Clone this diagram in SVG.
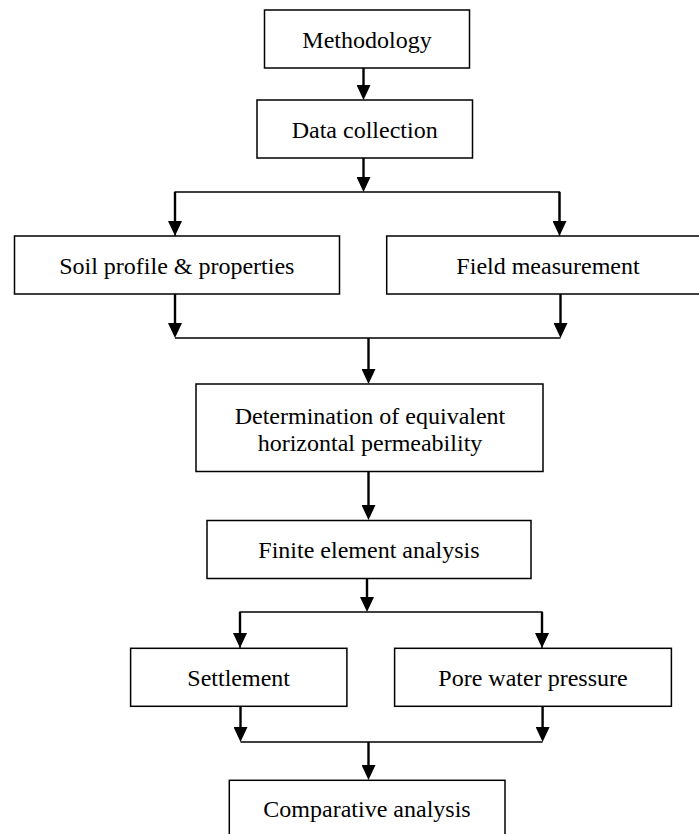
<svg xmlns="http://www.w3.org/2000/svg" width="699" height="834" viewBox="0 0 699 834">
<style>
.box{fill:#fff;stroke:#000;stroke-width:1.5}
.lbl{font-family:"Liberation Serif","Times New Roman",serif;font-size:24px;fill:#000;text-anchor:middle}
.shaft{stroke:#000;stroke-width:2.4;fill:none}
.bus{stroke:#000;stroke-width:1.3;fill:none}
</style>
<defs>
<marker id="ah" markerUnits="userSpaceOnUse" viewBox="0 0 15 14" refX="9" refY="7" markerWidth="15" markerHeight="14" orient="auto">
<path d="M0,0 L15,7 L0,14 Z" fill="#000"/>
</marker>
</defs>
<rect width="699" height="834" fill="#fff"/>
<g id="connectors">
<line class="shaft" x1="363.5" y1="68" x2="363.5" y2="94" marker-end="url(#ah)"/>
<line class="shaft" x1="363.5" y1="158" x2="363.5" y2="186" marker-end="url(#ah)"/>
<polyline class="bus" points="175,236 175,192 559.5,192 559.5,236"/>
<line class="shaft" x1="175" y1="192" x2="175" y2="230" marker-end="url(#ah)"/>
<line class="shaft" x1="559.5" y1="192" x2="559.5" y2="230" marker-end="url(#ah)"/>
<line class="shaft" x1="175" y1="294" x2="175" y2="332" marker-end="url(#ah)"/>
<line class="shaft" x1="560.5" y1="294" x2="560.5" y2="332" marker-end="url(#ah)"/>
<line class="bus" x1="175" y1="338" x2="560.5" y2="338"/>
<line class="shaft" x1="368.5" y1="338" x2="368.5" y2="378" marker-end="url(#ah)"/>
<line class="shaft" x1="368.5" y1="471.5" x2="368.5" y2="514" marker-end="url(#ah)"/>
<line class="shaft" x1="367" y1="578.5" x2="367" y2="606" marker-end="url(#ah)"/>
<polyline class="bus" points="240,648 240,612 542,612 542,648"/>
<line class="shaft" x1="240" y1="612" x2="240" y2="642" marker-end="url(#ah)"/>
<line class="shaft" x1="542" y1="612" x2="542" y2="642" marker-end="url(#ah)"/>
<line class="shaft" x1="240.5" y1="706.3" x2="240.5" y2="736" marker-end="url(#ah)"/>
<line class="shaft" x1="542.6" y1="706.3" x2="542.6" y2="736" marker-end="url(#ah)"/>
<line class="bus" x1="240.5" y1="742" x2="542.6" y2="742"/>
<line class="shaft" x1="368.5" y1="742" x2="368.5" y2="774" marker-end="url(#ah)"/>
</g>
<g id="methodology">
<rect class="box" x="264.5" y="10" width="205" height="58"/>
<text class="lbl" x="367" y="48">Methodology</text>
</g>
<g id="data-collection">
<rect class="box" x="257" y="100" width="215.5" height="58"/>
<text class="lbl" x="364.7" y="137.5">Data collection</text>
</g>
<g id="soil-profile">
<rect class="box" x="14.5" y="236" width="325" height="58"/>
<text class="lbl" x="176.8" y="274">Soil profile &amp; properties</text>
</g>
<g id="field-measurement">
<rect class="box" x="386.7" y="236" width="322" height="58"/>
<text class="lbl" x="548" y="274">Field measurement</text>
</g>
<g id="determination">
<rect class="box" x="196" y="384" width="347" height="87.5"/>
<text class="lbl" x="370" y="424">Determination of equivalent</text>
<text class="lbl" x="370" y="451">horizontal permeability</text>
</g>
<g id="finite-element">
<rect class="box" x="207" y="520.5" width="324" height="58"/>
<text class="lbl" x="369" y="558">Finite element analysis</text>
</g>
<g id="settlement">
<rect class="box" x="130.6" y="648.3" width="216.3" height="58"/>
<text class="lbl" x="238.7" y="686">Settlement</text>
</g>
<g id="pore-water-pressure">
<rect class="box" x="394.6" y="648.3" width="276.8" height="58"/>
<text class="lbl" x="533" y="686">Pore water pressure</text>
</g>
<g id="comparative-analysis">
<rect class="box" x="229.3" y="780.3" width="275.7" height="60"/>
<text class="lbl" x="367" y="817">Comparative analysis</text>
</g>
</svg>
